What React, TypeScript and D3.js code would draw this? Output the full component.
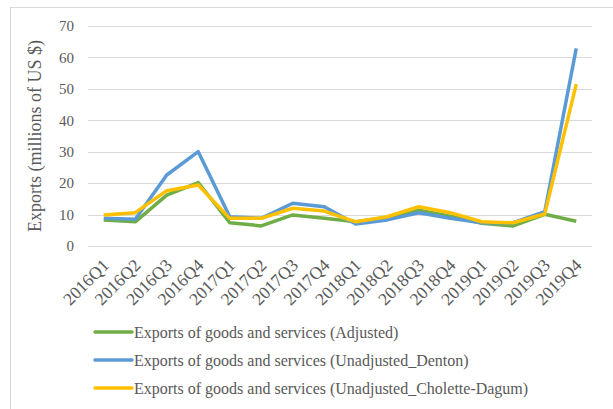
import React from "react";
import * as d3 from "d3";

const categories = ["2016Q1","2016Q2","2016Q3","2016Q4","2017Q1","2017Q2","2017Q3","2017Q4","2018Q1","2018Q2","2018Q3","2018Q4","2019Q1","2019Q2","2019Q3","2019Q4"];
const adjusted = [8.3, 7.7, 16.2, 20.2, 7.4, 6.4, 9.9, 8.8, 7.7, 9.1, 11.4, 9.5, 7.2, 6.4, 10.1, 7.9];
const denton = [8.8, 8.5, 22.6, 30.0, 9.3, 8.8, 13.6, 12.5, 7.0, 8.3, 10.6, 8.8, 7.4, 7.4, 10.9, 62.9];
const cholette = [9.9, 10.6, 17.6, 19.4, 8.8, 8.8, 12.0, 11.1, 7.7, 9.3, 12.5, 10.6, 7.7, 7.4, 10.2, 51.5];
const yTicks = [0, 10, 20, 30, 40, 50, 60, 70];
const seriesNames = [
  "Exports of goods and services (Adjusted)",
  "Exports of goods and services (Unadjusted_Denton)",
  "Exports of goods and services (Unadjusted_Cholette-Dagum)",
];
const seriesColors = ["#70ad47", "#5b9bd5", "#ffc000"];
const yLabel = "Exports (millions of US $)";

export default function App() {
  const W = 613, H = 409;
  const left = 88, right = 592, top = 26, bottom = 246;
  const x = d3.scaleBand<string>().domain(categories).range([left, right]);
  const y = d3.scaleLinear().domain([0, 70]).range([bottom, top]);
  const line = d3.line<number>()
    .x((_, i) => (x(categories[i]) as number) + x.bandwidth() / 2)
    .y((d) => y(d));
  const series = [adjusted, denton, cholette];
  const font = "Liberation Serif, DejaVu Serif, serif";
  const textColor = "#595959";
  return (
    <svg width={W} height={H} style={{ position: "absolute", left: 0, top: 0, fontFamily: font }}>
      <rect x={0} y={0} width={W} height={H} fill="#fff" />
      <line x1={10.5} x2={10.5} y1={7} y2={H} stroke="#d9d9d9" strokeWidth={1} />
      <line x1={10} x2={W} y1={7.5} y2={7.5} stroke="#d9d9d9" strokeWidth={1} />
      {yTicks.map((t) => (
        <g key={t}>
          <line x1={left} x2={right} y1={Math.round(y(t)) + 0.5} y2={Math.round(y(t)) + 0.5} stroke="#d9d9d9" strokeWidth={1} />
          <text x={74} y={y(t)} dy="0.35em" textAnchor="end" fontSize={15} fill={textColor} style={{ fontFamily: font }}>{t}</text>
        </g>
      ))}
      <text transform={`translate(41,136) rotate(-90)`} textAnchor="middle" fontSize={18} fill={textColor} style={{ fontFamily: font }}>{yLabel}</text>
      {categories.map((c) => {
        const cx = (x(c) as number) + x.bandwidth() / 2;
        return (
          <text key={c} transform={`translate(${cx + 2},${bottom + 16}) rotate(-45)`} textAnchor="end" dy="0.35em" fontSize={17.5} fill={textColor} style={{ fontFamily: font }}>{c}</text>
        );
      })}
      {series.map((s, i) => (
        <path key={i} d={line(s) as string} fill="none" stroke={seriesColors[i]} strokeWidth={3.5} strokeLinejoin="round" />
      ))}
      {seriesNames.map((n, i) => {
        const ly = 332 + i * 28;
        return (
          <g key={n}>
            <line x1={95} x2={132} y1={ly} y2={ly} stroke={seriesColors[i]} strokeWidth={3.5} strokeLinecap="round" />
            <text x={134} y={ly} dy="0.35em" fontSize={16} fill={textColor} style={{ fontFamily: font }}>{n}</text>
          </g>
        );
      })}
    </svg>
  );
}
